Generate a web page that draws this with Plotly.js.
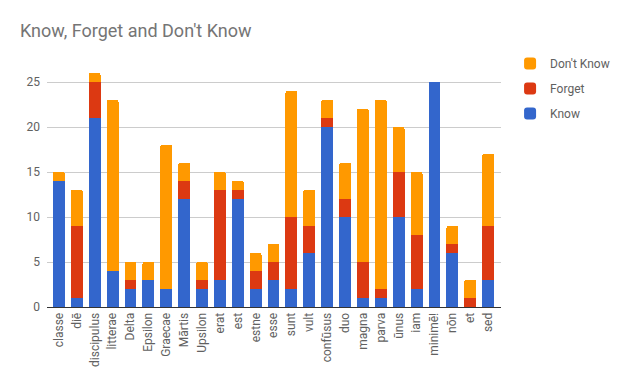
<!DOCTYPE html>
<html>
<head>
<meta charset="utf-8">
<script src="https://cdn.plot.ly/plotly-3.0.1.min.js"></script>
<style>
html,body{margin:0;padding:0;background:#fff;}
#chart{width:627px;height:388px;}
</style>
</head>
<body>
<div id="chart"></div>
<script>
const categories = ["classe","diē","discipulus","litterae","Delta","Epsilon","Graecae","Mārtis","Upsilon","erat","est","estne","esse","sunt","vult","confūsus","duo","magna","parva","ūnus","iam","minimē!","nōn","et","sed"];
const know     = [14, 1, 21, 4, 2, 3, 2, 12, 2, 3, 12, 2, 3, 2, 6, 20, 10, 1, 1, 10, 2, 25, 6, 0, 3];
const forget   = [0, 8, 4, 0, 1, 0, 0, 2, 1, 10, 1, 2, 2, 8, 3, 1, 2, 4, 1, 5, 6, 0, 1, 1, 6];
const dontKnow = [1, 4, 1, 19, 2, 2, 16, 2, 2, 2, 1, 2, 2, 14, 4, 2, 4, 17, 21, 5, 7, 0, 2, 2, 8];
const seriesNames = ["Know", "Forget", "Don't Know"];
const colors = ["#3366cc", "#dc3912", "#ff9900"];

const values = [know, forget, dontKnow];
const traces = values.map((v, i) => ({
  type: "bar",
  name: seriesNames[i],
  x: categories,
  y: v,
  legendgroup: "g" + i,
  legendrank: 1000 - i,
  marker: {color: colors[i], line: {width: 0}},
  hoverinfo: "x+y+name"
}));

const font = "Roboto, Arial, sans-serif";
const layout = {
  width: 627,
  height: 388,
  margin: {l: 47, r: 123, t: 64, b: 81, pad: 0},
  paper_bgcolor: "#ffffff",
  plot_bgcolor: "#ffffff",
  barmode: "stack",
  bargap: 0.333,
  barcornerradius: 2,
  title: {
    text: "Know, Forget and Don't Know",
    font: {family: font, size: 18, color: "#757575"},
    x: 20 / 627, xref: "container", xanchor: "left",
    y: 1, yref: "container", yanchor: "top",
    pad: {t: 24}
  },
  showlegend: true,
  legend: {
    traceorder: "grouped",
    tracegroupgap: 6,
    x: 1.02, xanchor: "left",
    y: 1.062, yanchor: "top",
    font: {family: font, size: 12, color: "#616161"},
    bgcolor: "rgba(0,0,0,0)"
  },
  xaxis: {
    type: "category",
    range: [-0.667, 24.72],
    tickangle: -90,
    tickfont: {family: font, size: 12, color: "#616161"},
    showgrid: false,
    showline: true,
    linecolor: "#333333",
    linewidth: 1,
    ticks: "",
    fixedrange: true
  },
  yaxis: {
    range: [0, 27],
    tickvals: [0, 5, 10, 15, 20, 25],
    tickfont: {family: font, size: 12, color: "#616161"},
    showgrid: true,
    gridcolor: "#cccccc",
    gridwidth: 1,
    zeroline: true,
    zerolinecolor: "#333333",
    zerolinewidth: 1,
    showline: false,
    ticks: "",
    ticklabelstandoff: 6,
    fixedrange: true
  }
};

Plotly.newPlot("chart", traces, layout, {displayModeBar: false, staticPlot: true});
</script>
</body>
</html>
